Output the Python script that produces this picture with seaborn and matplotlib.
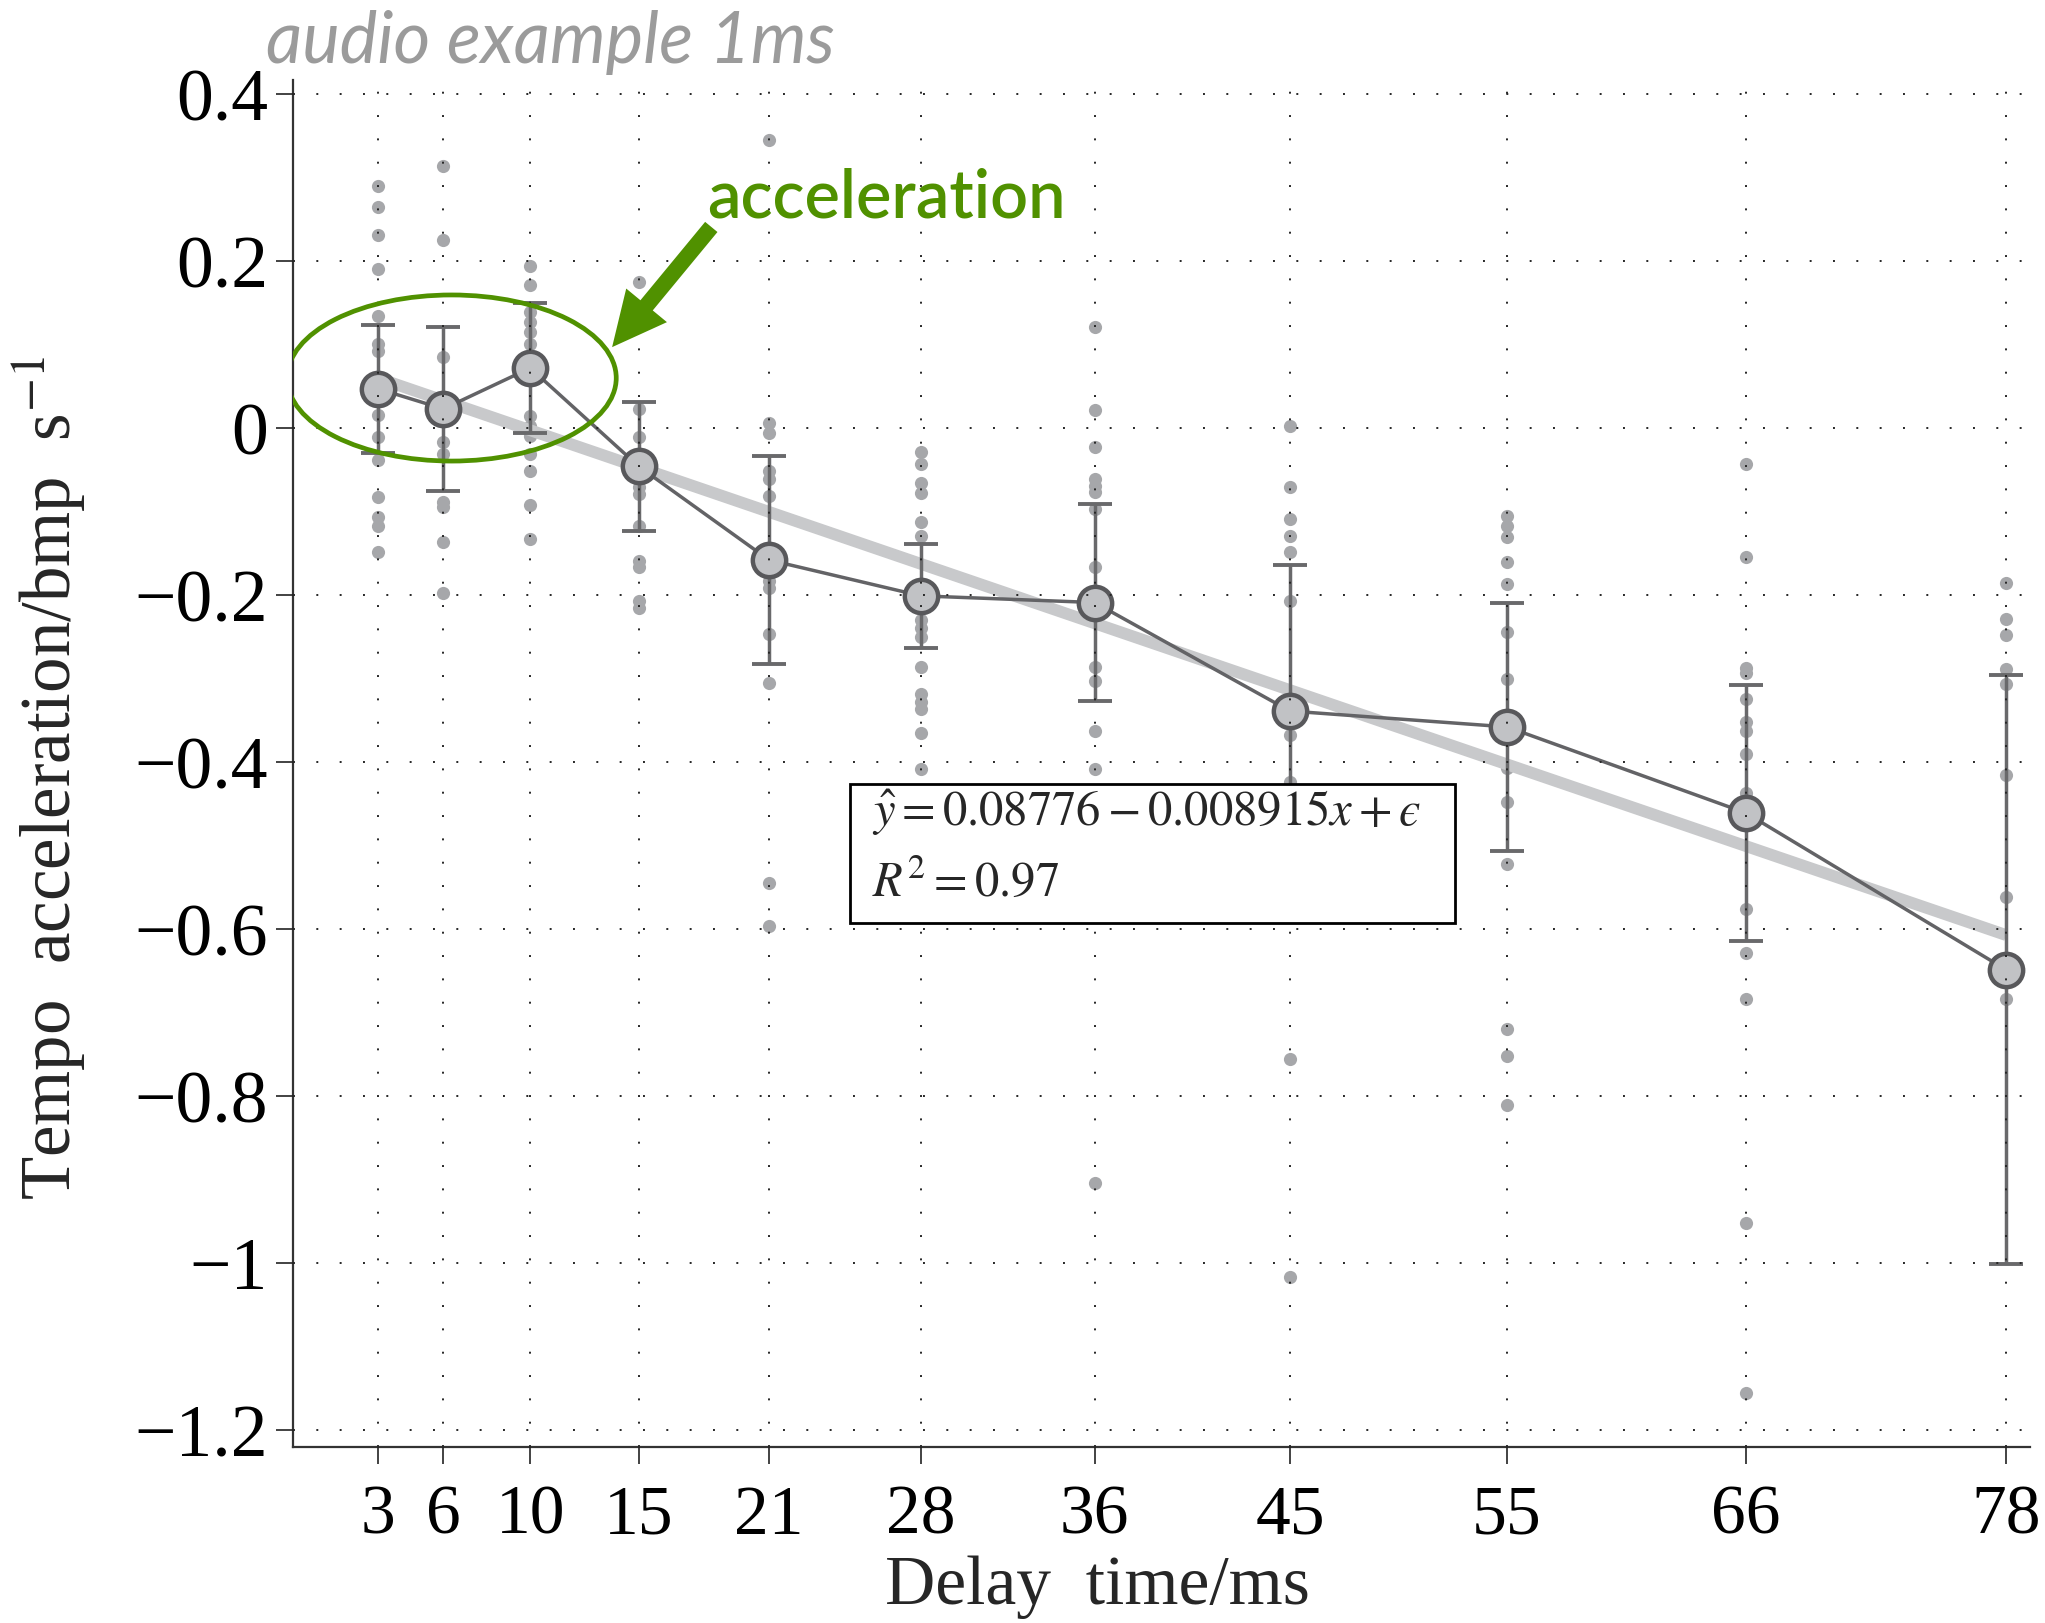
import matplotlib
matplotlib.use("Agg")
import matplotlib.pyplot as plt
from matplotlib.patches import Ellipse, Rectangle
import pandas as pd
import seaborn as sns

# delay conditions (ms)
delays = [3, 6, 10, 15, 21, 28, 36, 45, 55, 66, 78]

# mean tempo acceleration and spread per delay
mean_accel = [0.047, 0.023, 0.072, -0.046, -0.158, -0.201, -0.209, -0.339, -0.358, -0.461, -0.649]
sd_accel = [0.077, 0.098, 0.078, 0.077, 0.125, 0.062, 0.118, 0.175, 0.149, 0.153, 0.353]

# single trials, one list per delay
pts_3 = [0.290, 0.265, 0.231, 0.191, 0.134, 0.101, 0.092, 0.016, -0.011, -0.038, -0.082, -0.106, -0.117, -0.148]
pts_6 = [0.314, 0.225, 0.085, -0.017, -0.031, -0.088, -0.095, -0.136, -0.197]
pts_10 = [0.194, 0.171, 0.139, 0.127, 0.115, 0.101, 0.015, 0.002, -0.010, -0.031, -0.052, -0.092, -0.133]
pts_15 = [0.175, 0.023, -0.011, -0.071, -0.079, -0.117, -0.159, -0.166, -0.207, -0.215]
pts_21 = [0.345, 0.006, -0.006, -0.051, -0.061, -0.081, -0.183, -0.191, -0.247, -0.306, -0.545, -0.597]
pts_28 = [-0.029, -0.043, -0.066, -0.078, -0.113, -0.129, -0.230, -0.240, -0.250, -0.286, -0.319,
          -0.328, -0.337, -0.365, -0.408]
pts_36 = [0.121, 0.022, -0.023, -0.061, -0.069, -0.077, -0.097, -0.166, -0.286, -0.303, -0.363, -0.408, -0.905]
pts_45 = [0.002, -0.070, -0.109, -0.129, -0.149, -0.207, -0.368, -0.424, -0.756, -1.017]
pts_55 = [-0.105, -0.117, -0.130, -0.161, -0.187, -0.244, -0.301, -0.407, -0.448, -0.522, -0.720, -0.752, -0.811]
pts_66 = [-0.043, -0.154, -0.287, -0.294, -0.325, -0.352, -0.363, -0.391, -0.437, -0.576, -0.629, -0.684,
          -0.952, -1.156]
pts_78 = [-0.186, -0.229, -0.248, -0.289, -0.307, -0.416, -0.562, -0.684]

ytick_vals = [0.4, 0.2, 0.0, -0.2, -0.4, -0.6, -0.8, -1.0, -1.2]
ytick_labels = ["0.4", "0.2", "0", "\u22120.2", "\u22120.4", "\u22120.6", "\u22120.8", "\u22121", "\u22121.2"]

all_pts = [pts_3, pts_6, pts_10, pts_15, pts_21, pts_28, pts_36, pts_45, pts_55, pts_66, pts_78]
trials = pd.DataFrame({
    "delay": [d for d, p in zip(delays, all_pts) for _ in p],
    "accel": [v for p in all_pts for v in p],
})

GREEN = "#509100"
DARK = "#636366"

sns.set_theme(style="ticks")
plt.rcParams["font.family"] = ["Liberation Serif", "DejaVu Serif"]
plt.rcParams["mathtext.fontset"] = "stix"

fig = plt.figure(figsize=(20.45, 16.24), dpi=100)
ax = fig.add_axes([0.1433, 0.1084, 0.8494, 0.8417])

# single trials
sns.scatterplot(data=trials, x="delay", y="accel", color="#a6a7aa", s=90, linewidth=0,
                ax=ax, zorder=1, legend=False)

# linear fit of the means
sns.regplot(x=delays, y=mean_accel, scatter=False, ci=None, truncate=True, color="#c8c9cb",
            line_kws=dict(lw=8.5, solid_capstyle="butt", zorder=1.2), ax=ax)

# means with error bars
ax.errorbar(delays, mean_accel, yerr=sd_accel, fmt="none", ecolor="#69696b",
            elinewidth=2.5, capsize=12, capthick=2.8, zorder=1.5)
sns.lineplot(x=delays, y=mean_accel, color=DARK, lw=2.5, marker="o", markersize=24,
             markerfacecolor="#c1c2c5", markeredgecolor="#58585b", markeredgewidth=3.2,
             ax=ax, zorder=2)

ax.set_xlim(-0.93, 79.1)
ax.set_ylim(-1.2207, 0.417)
ax.set_xticks(delays)
ax.set_xticklabels([str(d) for d in delays])
ax.set_yticks(ytick_vals)
ax.set_yticklabels(ytick_labels)

sns.despine(ax=ax)
for side in ["left", "bottom"]:
    ax.spines[side].set_linewidth(1.6)
    ax.spines[side].set_color("#333333")
ax.tick_params(direction="out", length=12, width=1.2, color="#222222", labelcolor="black")
ax.tick_params(axis="y", labelsize=53, pad=6)
ax.tick_params(axis="x", labelsize=50, pad=15)
ax.grid(True, linestyle=(0, (1, 11)), linewidth=1.4, color="#262626")
ax.set_axisbelow(False)

ax.set_xlabel("Delay  time/ms", fontsize=50)
ax.xaxis.label.set_va("baseline")
ax.xaxis.set_label_coords(0.463, -0.1141)
ax.set_ylabel("Tempo  acceleration/bmp  s$^{-1}$", fontsize=51)
ax.yaxis.set_label_coords(-0.118, 0.49)

# regression box
ax.add_patch(Rectangle((24.74, -0.593), 27.88, 0.1666, facecolor="white",
                       edgecolor="black", lw=2, zorder=4))
ax.text(25.76, -0.476, "$\\hat{y} = 0.08776 - 0.008915x + \u03f5$", fontsize=35,
        va="baseline", zorder=5)
ax.text(25.76, -0.559, r"$R^2 = 0.97$", fontsize=35, va="baseline", zorder=5)

# highlight
ax.add_patch(Ellipse((6.38, 0.060), 15.16, 0.199, fill=False, edgecolor=GREEN, lw=3.4, zorder=6))
ax.annotate("", xy=(13.77, 0.097), xytext=(18.34, 0.241),
            arrowprops=dict(arrowstyle="simple,head_length=3.9,head_width=3.8,tail_width=1.15",
                            mutation_scale=10, color=GREEN, lw=0, shrinkA=0, shrinkB=0),
            zorder=6, annotation_clip=False)

fig.text(707 / 2045, 1 - 218 / 1624, "acceleration", family=["Lato", "DejaVu Sans"],
         fontweight="semibold", fontsize=48, color=GREEN, va="baseline")
fig.text(266 / 2045, 1 - 63 / 1624, "audio example 1ms", family=["Lato", "DejaVu Sans"],
         fontstyle="italic", fontsize=51, color="#9b9b9b", va="baseline")

fig.savefig("out.png", dpi=100)
